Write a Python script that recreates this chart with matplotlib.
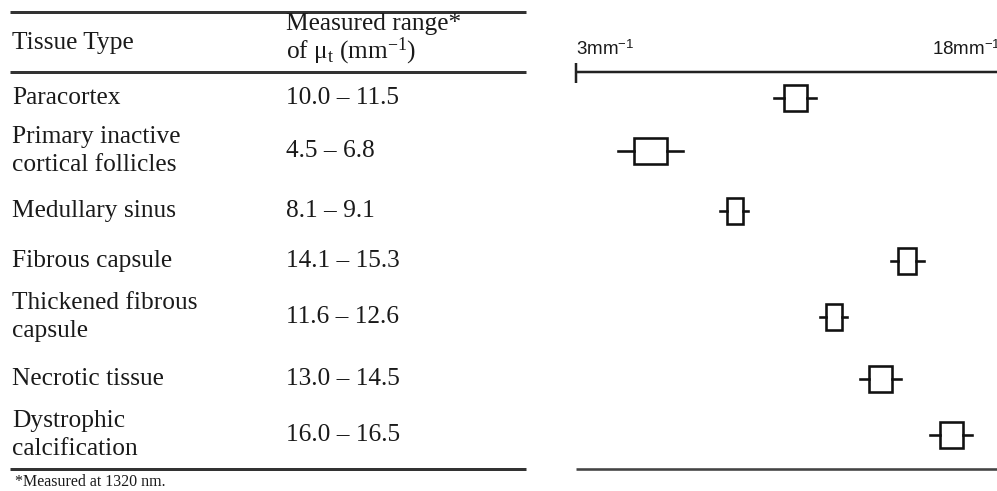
import matplotlib
matplotlib.use("Agg")
import matplotlib.pyplot as plt

# ---------------- data ----------------
tissues = ["Paracortex", "Primary inactive\ncortical follicles", "Medullary sinus",
           "Fibrous capsule", "Thickened fibrous\ncapsule", "Necrotic tissue",
           "Dystrophic\ncalcification"]
ranges = ["10.0 – 11.5", "4.5 – 6.8", "8.1 – 9.1", "14.1 – 15.3",
          "11.6 – 12.6", "13.0 – 14.5", "16.0 – 16.5"]
whisker_low = [10.0, 4.5, 8.1, 14.14, 11.63, 13.04, 15.51]
q1 = [10.36, 5.06, 8.35, 14.38, 11.84, 13.36, 15.87]
q3 = [11.17, 6.23, 8.91, 15.02, 12.41, 14.17, 16.68]
whisker_high = [11.49, 6.8, 9.09, 15.3, 12.59, 14.49, 17.0]
axis_min, axis_max = 3, 18
header_col1 = "Tissue Type"
header_col2_l1 = "Measured range*"
footnote = "*Measured at 1320 nm."

# ---------------- layout ----------------
W, H = 997, 491
row_y = [98, 151, 211, 261, 317, 379, 435]

plt.rcParams["mathtext.fontset"] = "custom"
plt.rcParams["mathtext.rm"] = "Liberation Serif"
plt.rcParams["mathtext.it"] = "Liberation Serif:italic"
plt.rcParams["mathtext.sf"] = "Liberation Sans"

fig = plt.figure(figsize=(W / 100, H / 100), dpi=100)
fig.patch.set_facecolor("white")

# table axes in pixel coords
axt = fig.add_axes([0, 0, 1, 1])
axt.set_xlim(0, W)
axt.set_ylim(H, 0)
axt.axis("off")

serif = "Liberation Serif"
fs = 18.3
tc = "#1a1a1a"
lc = "#333333"
px = 0.72  # points per pixel

axt.hlines([12, 72], 10, 526, color=lc, lw=3 * px)
axt.hlines([469], 10, 526, color=lc, lw=3 * px)

axt.text(12, 43, header_col1, family=serif, fontsize=fs, va="center", ha="left", color=tc)
axt.text(286, 24, header_col2_l1, family=serif, fontsize=fs, va="center", ha="left", color=tc)
axt.text(286, 51, r"of $\mathrm{μ}_{\mathrm{t}}$ (mm$^{\mathrm{-1}}$)", family=serif,
         fontsize=fs, va="center", ha="left", color=tc)

for name, rng, y in zip(tissues, ranges, row_y):
    axt.text(12, y, name, family=serif, fontsize=fs, va="center", ha="left",
             color=tc, linespacing=1.33)
    axt.text(286, y, rng, family=serif, fontsize=fs, va="center", ha="left", color=tc)

axt.text(15, 482, footnote, family=serif, fontsize=11.5, va="center", ha="left", color=tc)

# box plot axes: x from 3 -> 18 spans pixels 575.5 -> 1000.5
x0, x1 = 575.5, 1000.5
axb = fig.add_axes([x0 / W, 0, (x1 - x0) / W, 1])
axb.set_xlim(axis_min, axis_max)
axb.set_ylim(H, 0)
axb.axis("off")
axb.patch.set_alpha(0)

stats = []
for lo, a, b, hi, name in zip(whisker_low, q1, q3, whisker_high, tissues):
    stats.append(dict(whislo=lo, q1=a, med=a, q3=b, whishi=hi, fliers=[], label=name))

blw = 2.6 * px
axb.bxp(stats, positions=row_y, widths=26, orientation="horizontal",
        showcaps=False, showfliers=False, patch_artist=True,
        boxprops=dict(facecolor="white", edgecolor="#111111", linewidth=blw),
        whiskerprops=dict(color="#111111", linewidth=blw),
        medianprops=dict(linewidth=0),
        manage_ticks=False)

axb.hlines(72, axis_min, axis_max, color="#222222", lw=2.5 * px, clip_on=False)
axb.vlines(axis_min, 63, 83, color="#222222", lw=2.5 * px, clip_on=False)
axb.hlines(469, axis_min, axis_max, color="#444444", lw=2.6 * px, clip_on=False)

axb.text(axis_min, 55, r"$\mathsf{3mm}^{\mathsf{-1}}$", fontsize=13.5, ha="left",
         va="baseline", color=tc, clip_on=False)
axb.text(axis_max, 55, r"$\mathsf{18mm}^{\mathsf{-1}}$", fontsize=13.5, ha="right",
         va="baseline", color=tc, clip_on=False)

fig.savefig("out.png", dpi=100, facecolor="white")
